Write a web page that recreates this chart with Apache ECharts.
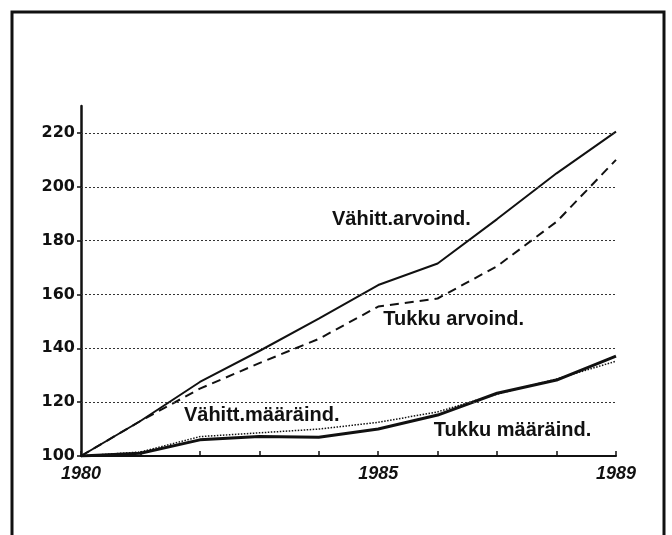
<!DOCTYPE html>
<html>
<head>
<meta charset="utf-8">
<script src="https://cdn.jsdelivr.net/npm/echarts@6/dist/echarts.min.js"></script>
<style>html,body{margin:0;padding:0;background:#fff}#c{width:672px;height:535px}</style>
</head>
<body>
<div id="c"></div>
<script>
const years = [1980,1981,1982,1983,1984,1985,1986,1987,1988,1989];
const vahittArvo = [100,113,127.5,139,151,163.5,171.5,188,205,220.5];
const tukkuArvo  = [100,113,125,134.5,143.5,155.5,158.5,170.5,187,210];
const vahittMaara = [100,101.5,107.2,108.6,110,112.5,116.4,123,128.6,135.2];
const tukkuMaara  = [100,101,106,107.2,107,110,115.2,123.3,128.2,137.1];
const yTicks = [100,120,140,160,180,200,220];
const xLabels = [1980,1985,1989];
const annotations = [
  {text:'Vähitt.arvoind.', coord:[1985.39,187.9]},
  {text:'Tukku arvoind.', coord:[1986.27,150.8]},
  {text:'Vähitt.määräind.', coord:[1983.04,115.2]},
  {text:'Tukku määräind.', coord:[1987.26,109.3]}
];

const chart = echarts.init(document.getElementById('c'));
const ink = '#111';
function pairs(arr){ return years.map((y,i)=>[y,arr[i]]); }

chart.setOption({
  animation:false,
  backgroundColor:'#fff',
  grid:{left:81,right:56,top:106,bottom:79},
  xAxis:{
    type:'value', min:1980, max:1989, interval:1,
    axisLine:{lineStyle:{color:ink,width:2}},
    axisTick:{inside:true,length:5,lineStyle:{color:ink,width:1.5}},
    splitLine:{show:false},
    axisLabel:{
      margin:9,
      color:ink, fontFamily:'Liberation Sans', fontWeight:'bold', fontStyle:'italic', fontSize:18,
      formatter:v=> xLabels.indexOf(v)>=0 ? String(v) : ''
    }
  },
  yAxis:{
    type:'value', min:100, max:230, interval:20,
    axisLine:{show:true,lineStyle:{color:ink,width:2.5}},
    axisTick:{show:true,length:4,lineStyle:{color:ink,width:1.5}},
    splitLine:{show:false},
    axisLabel:{
      margin:6, showMaxLabel:false,
      color:ink, fontFamily:'DejaVu Sans', fontWeight:'bold', fontSize:16,
      formatter:v=> yTicks.indexOf(v)>=0 ? String(v) : ''
    }
  },
  graphic:[{
    type:'rect', shape:{x:12,y:12,width:652,height:540},
    style:{fill:'none',stroke:ink,lineWidth:3}
  }],
  series:[
    {type:'line', name:'Vähitt.arvoind.', data:pairs(vahittArvo), symbol:'none', lineStyle:{color:ink,width:2},
      markLine:{
        silent:true, symbol:'none', label:{show:false},
        lineStyle:{color:'#333',type:[2,2],width:1},
        data: yTicks.filter(v=>v>100).map(v=>({yAxis:v}))
      },
      markPoint:{
        symbol:'circle', symbolSize:1, silent:true,
        itemStyle:{color:'rgba(0,0,0,0)'},
        label:{show:true,position:'inside',color:ink,fontFamily:'Liberation Sans',fontWeight:'bold',fontSize:20,
          formatter:p=>p.name},
        data: annotations.map(a=>({name:a.text, coord:a.coord}))
      }
    },
    {type:'line', name:'Tukku arvoind.', data:pairs(tukkuArvo), symbol:'none', lineStyle:{color:ink,width:2,type:[9,6]}},
    {type:'line', name:'Vähitt.määräind.', data:pairs(vahittMaara), symbol:'none', lineStyle:{color:ink,width:1.5,type:[1.5,1.5]}},
    {type:'line', name:'Tukku määräind.', data:pairs(tukkuMaara), symbol:'none', lineStyle:{color:ink,width:3}}
  ]
});
</script>
</body>
</html>
